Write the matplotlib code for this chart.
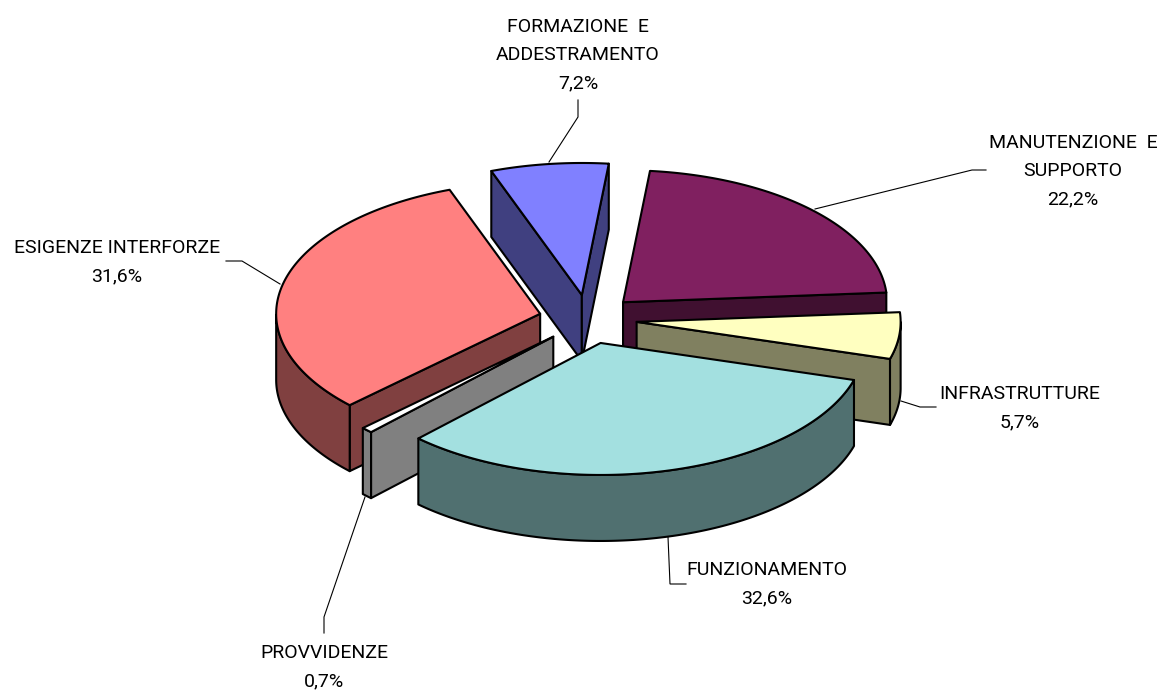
import numpy as np
import matplotlib
matplotlib.use("Agg")
import matplotlib.pyplot as plt
from matplotlib.patches import Polygon

plt.rcParams['font.family'] = ['Roboto', 'Liberation Sans', 'DejaVu Sans']

# Data, clockwise on screen starting at the Funzionamento slice
categories = ["FUNZIONAMENTO", "PROVVIDENZE", "ESIGENZE INTERFORZE",
              "FORMAZIONE  E\nADDESTRAMENTO", "MANUTENZIONE  E\nSUPPORTO", "INFRASTRUTTURE"]
values = [32.6, 0.7, 31.6, 7.2, 22.2, 5.7]
top_colors = ["#A3E0E0", "#FFFFFF", "#FF8080", "#8080FF", "#802060", "#FFFFC0"]
wall_colors = ["#507070", "#808080", "#804040", "#404080", "#401030", "#808060"]
# centre of each label block and its leader line, in picture pixels
label_centers = [(767, 583), (324, 666), (117, 261), (578, 54), (1073, 170), (1020, 407)]
leaders = [[(668, 537), (670, 584), (686, 584)],
           [(365, 497), (324, 617), (324, 633)],
           [(280, 284), (242, 261), (226, 261)],
           [(549, 162), (578, 117), (578, 100)],
           [(815, 209), (972, 170), (986, 170)],
           [(901, 401), (920, 407), (936, 407)]]

# Pie geometry (pixels)
CX, CY = 587.9, 319.3
RX, RY = 264.0, 132.0
DEPTH = 66.0
EXPLODE = 49.0 / 264.0
START = 16.3

W, H = 1161, 690
fig = plt.figure(figsize=(W / 100, H / 100), dpi=100, facecolor="white")
ax = fig.add_axes([0, 0, 1, 1])
ax.set_xlim(0, W)
ax.set_ylim(H, 0)
ax.axis("off")


def pt(a, r=1.0):
    t = np.radians(a)
    return np.array([RX * r * np.cos(t), RY * r * np.sin(t)])


fracs = np.array(values) / sum(values)
spans = fracs * 360.0
starts = START + np.concatenate([[0], np.cumsum(spans)[:-1]])
mids = starts + spans / 2
order = np.argsort(np.sin(np.radians(mids)))
LW = 1.5
z = 2


def add(poly, fc):
    global z
    ax.add_patch(Polygon(poly, closed=True, facecolor=fc, edgecolor="black",
                         linewidth=LW, joinstyle="round", zorder=z))
    z += 1


for i in order:
    a0, a1 = starts[i], starts[i] + spans[i]
    apex = np.array([CX, CY]) + pt(mids[i], EXPLODE)
    down = np.array([0, DEPTH])
    m = pt(mids[i], 0.5)
    # radial walls seen from the front only when the slice lies above the edge
    for a in (a0, a1):
        e = pt(a)
        if abs(e[0]) > 1e-6 and m[1] < e[1] / e[0] * m[0]:
            c = apex + e
            add([apex, c, c + down, apex + down], wall_colors[i])
    # outer curved wall: only the part on the near side
    grid = np.linspace(a0, a1, 200)
    front = grid[np.sin(np.radians(grid)) > 0]
    if len(front) > 1:
        arc = np.array([apex + pt(a) for a in front])
        add(np.vstack([arc, (arc + down)[::-1]]), wall_colors[i])
    # top
    arc = np.array([apex + pt(a) for a in grid])
    add(np.vstack([[apex], arc]), top_colors[i])

# Labels and leader lines
for name, val, (lx, ly), lead in zip(categories, values, label_centers, leaders):
    xs, ys = zip(*lead)
    ax.plot(xs, ys, color="black", lw=0.8, zorder=100, solid_joinstyle="miter")
    lines = name.split("\n") + [f"{val:.1f}%".replace(".", ",")]
    n = len(lines)
    for k, s in enumerate(lines):
        ax.text(lx, ly + 1 + (k - (n - 1) / 2) * 28, s, ha="center", va="center",
                fontsize=14.0, color="black", zorder=101)

fig.savefig("out.png", dpi=100, facecolor="white")
